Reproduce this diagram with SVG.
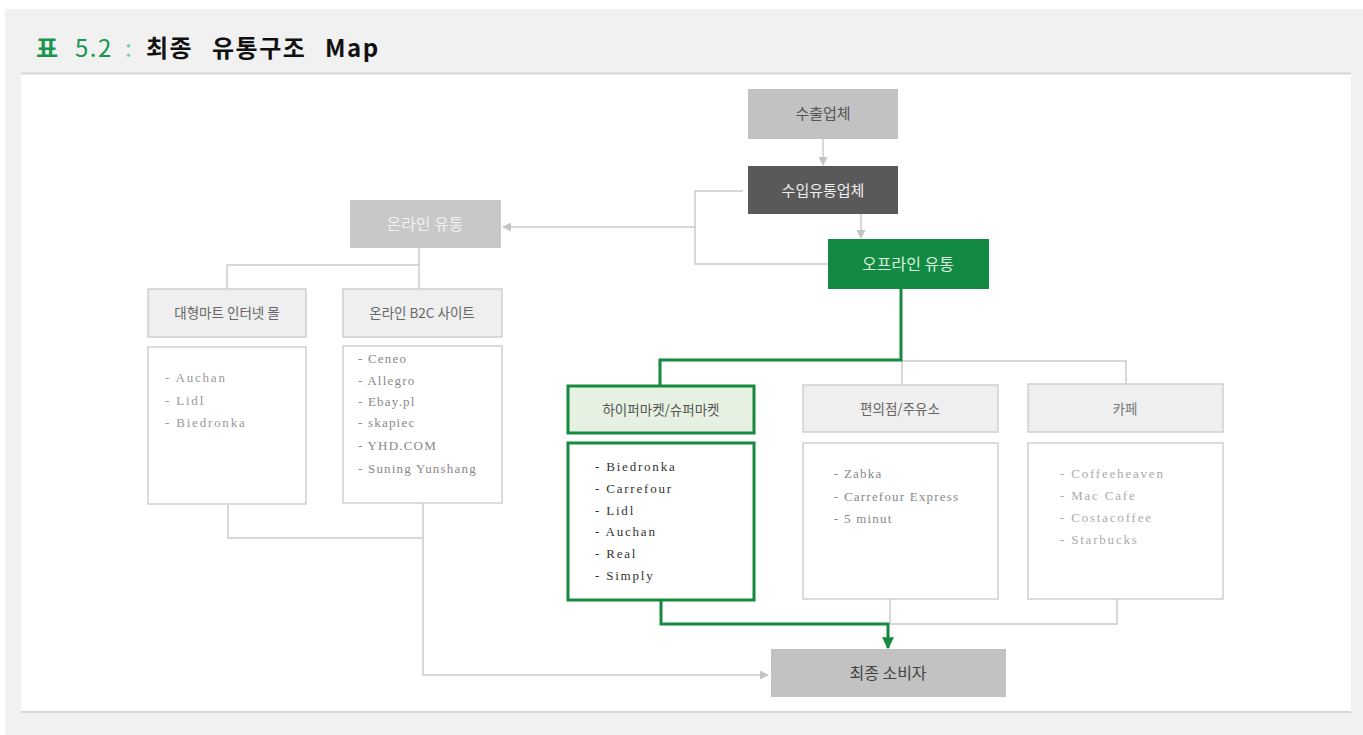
<svg xmlns="http://www.w3.org/2000/svg" width="1363" height="735" viewBox="0 0 1363 735">
<defs>
<style>
.kr{font-family:"Noto Sans CJK KR","Noto Sans",sans-serif;text-anchor:middle}
.it{font-family:"Liberation Serif","DejaVu Serif",serif;font-size:13px;letter-spacing:1.8px}
.ln{fill:none;stroke:#cbcbcb;stroke-width:1.5}
.gl{fill:none;stroke:#17893f;stroke-width:3}
.hd{fill:#efefef;stroke:#cfcfcf;stroke-width:1.5}
.bx{fill:#fff;stroke:#cfcfcf;stroke-width:1.5}
.tt{font-family:"Noto Sans CJK KR","Noto Sans",sans-serif;font-size:24px;font-weight:bold;letter-spacing:1.5px}
</style>
<marker id="ag" viewBox="0 0 10 10" refX="9" refY="5" markerWidth="9" markerHeight="9" markerUnits="userSpaceOnUse" orient="auto"><path d="M0,0 L10,5 L0,10 z" fill="#c4c4c4"/></marker>
<marker id="agr" viewBox="0 0 10 10" refX="9" refY="5" markerWidth="12" markerHeight="12" markerUnits="userSpaceOnUse" orient="auto"><path d="M0,0 L10,5 L0,10 z" fill="#17893f"/></marker>
</defs>
<rect x="0" y="0" width="1363" height="735" fill="#fff"/>
<rect x="5" y="9" width="1358" height="726" fill="#f1f1f1"/>
<rect x="21" y="74" width="1330" height="638" fill="#fff"/>
<line x1="21" y1="73.5" x2="1351" y2="73.5" stroke="#d6d6d6" stroke-width="2"/>
<line x1="21" y1="712" x2="1351" y2="712" stroke="#d6d6d6" stroke-width="2"/>
<text class="tt" y="57"><tspan x="36" fill="#1a9650">표</tspan><tspan x="75" fill="#1a9650" font-weight="normal">5.2</tspan><tspan x="125" fill="#6fd0b0" font-weight="normal">:</tspan><tspan x="146" fill="#111">최종</tspan><tspan x="212" fill="#111">유통구조</tspan><tspan x="325" fill="#111">Map</tspan></text>

<g id="connectors">
<line class="ln" x1="823" y1="139" x2="823" y2="165" marker-end="url(#ag)"/>
<line class="ln" x1="861" y1="214" x2="861" y2="238" marker-end="url(#ag)"/>
<polyline class="ln" points="743,191 695,191 695,264 828,264"/>
<line class="ln" x1="695" y1="227" x2="503" y2="227" marker-end="url(#ag)"/>
<polyline class="ln" points="419,248 419,265"/>
<polyline class="ln" points="227,289 227,265 419,265 419,289"/>
<polyline class="ln" points="228,505 228,538 423,538"/>
<polyline class="ln" points="423,503 423,675 768,675" marker-end="url(#ag)"/>
<polyline class="ln" points="902,361 1126,361 1126,384"/>
<line class="ln" x1="902" y1="361" x2="902" y2="384"/>
<polyline class="ln" points="890,599 890,624 1117,624 1117,599"/>
<polyline class="gl" points="901,289 901,360 660,360 660,386"/>
<polyline class="gl" points="661,600 661,624 888,624 888,648" marker-end="url(#agr)"/>
</g>

<g id="n-export"><rect x="748" y="89" width="150" height="50" fill="#c2c2c2"/><text class="kr" x="823" y="119" font-size="15" fill="#555">수출업체</text></g>
<g id="n-import"><rect x="748" y="166" width="150" height="48" fill="#595959"/><text class="kr" x="823" y="196" font-size="15" fill="#eee">수입유통업체</text></g>
<g id="n-offline"><rect x="828" y="239" width="161" height="50" fill="#138a44"/><text class="kr" x="908" y="270" font-size="16" fill="#d8f0dc">오프라인 유통</text></g>
<g id="n-online"><rect x="350" y="200" width="151" height="48" fill="#c8c8c8"/><text class="kr" x="425" y="230" font-size="16" fill="#f0f0f0">온라인 유통</text></g>

<g id="n-mart"><rect class="hd" x="148" y="289" width="158" height="48"/><text class="kr" x="227" y="318" font-size="13.5" fill="#666">대형마트 인터넷 몰</text></g>
<g id="n-mart-list"><rect class="bx" x="148" y="347" width="158" height="157"/>
<text class="it" fill="#999"><tspan x="165" y="382">- Auchan</tspan><tspan x="165" y="405">- Lidl</tspan><tspan x="165" y="427">- Biedronka</tspan></text></g>

<g id="n-b2c"><rect class="hd" x="343" y="289" width="159" height="48"/><text class="kr" x="422" y="318" font-size="13.5" fill="#666">온라인 B2C 사이트</text></g>
<g id="n-b2c-list"><rect class="bx" x="343" y="346" width="159" height="157"/>
<text class="it" fill="#888" style="letter-spacing:1.2px"><tspan x="358" y="363">- Ceneo</tspan><tspan x="358" y="385">- Allegro</tspan><tspan x="358" y="406">- Ebay.pl</tspan><tspan x="358" y="427">- skapiec</tspan><tspan x="358" y="450">- YHD.COM</tspan><tspan x="358" y="473">- Suning Yunshang</tspan></text></g>

<g id="n-hyper"><rect x="568" y="386" width="186" height="47" fill="#e7f1e2" stroke="#17893f" stroke-width="3"/><text class="kr" x="661" y="415" font-size="13.5" fill="#555">하이퍼마켓/슈퍼마켓</text></g>
<g id="n-hyper-list"><rect x="568" y="443" width="186" height="157" fill="#fff" stroke="#17893f" stroke-width="3"/>
<text class="it" fill="#333"><tspan x="595" y="471">- Biedronka</tspan><tspan x="595" y="493">- Carrefour</tspan><tspan x="595" y="515">- Lidl</tspan><tspan x="595" y="536">- Auchan</tspan><tspan x="595" y="558">- Real</tspan><tspan x="595" y="580">- Simply</tspan></text></g>

<g id="n-conv"><rect class="hd" x="803" y="385" width="195" height="47"/><text class="kr" x="900" y="414" font-size="13.5" fill="#666">편의점/주유소</text></g>
<g id="n-conv-list"><rect class="bx" x="803" y="443" width="195" height="156"/>
<text class="it" fill="#888" style="letter-spacing:1.2px"><tspan x="834" y="478">- Zabka</tspan><tspan x="834" y="501">- Carrefour Express</tspan><tspan x="834" y="523">- 5 minut</tspan></text></g>

<g id="n-cafe"><rect class="hd" x="1028" y="384" width="195" height="48"/><text class="kr" x="1125" y="414" font-size="13.5" fill="#777">카페</text></g>
<g id="n-cafe-list"><rect class="bx" x="1028" y="443" width="195" height="156"/>
<text class="it" fill="#aaa"><tspan x="1060" y="478">- Coffeeheaven</tspan><tspan x="1060" y="500">- Mac Cafe</tspan><tspan x="1060" y="522">- Costacoffee</tspan><tspan x="1060" y="544">- Starbucks</tspan></text></g>

<g id="n-consumer"><rect x="771" y="649" width="235" height="48" fill="#c2c2c2"/><text class="kr" x="888" y="679" font-size="16" fill="#444">최종 소비자</text></g>
</svg>
